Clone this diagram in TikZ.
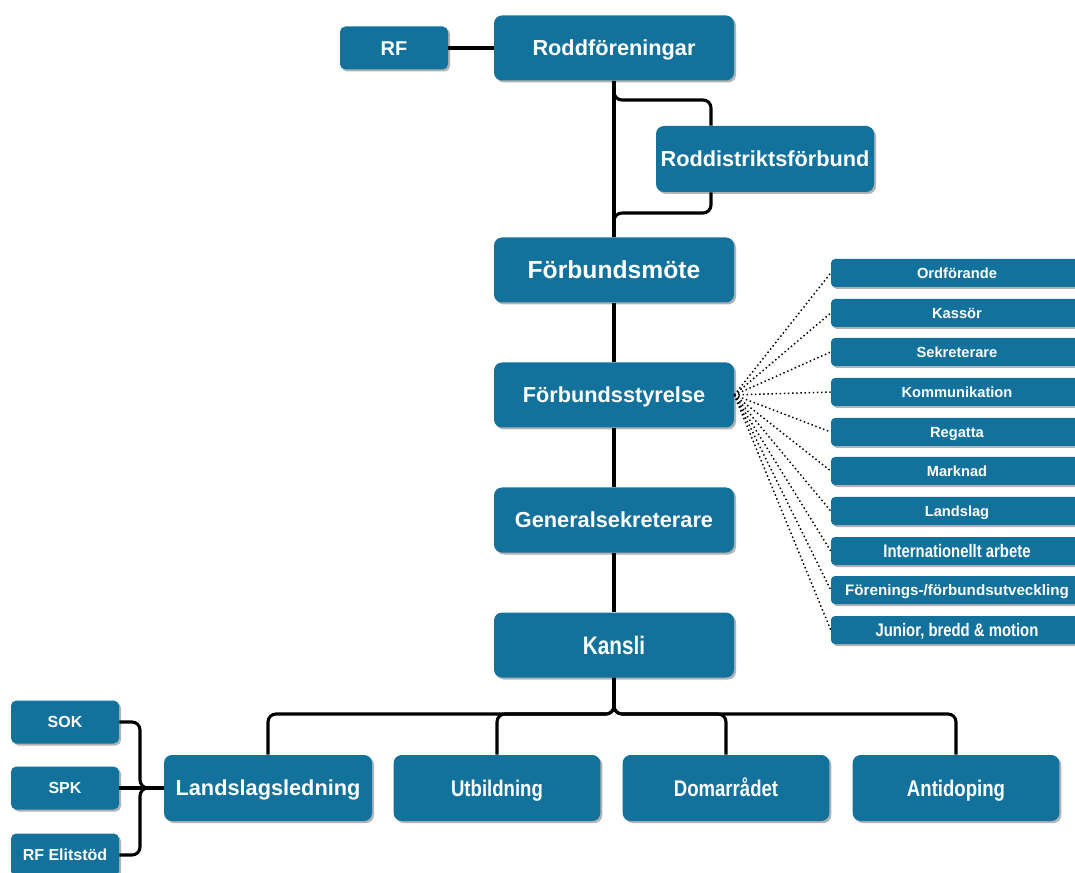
\documentclass[tikz,border=0pt]{standalone}
\usepackage{fontspec}
\setmainfont{Liberation Sans}
\newfontfamily\narrowfont{Liberation Sans}[FakeStretch=0.82]
\usetikzlibrary{shadows}
\definecolor{boxblue}{RGB}{19,114,156}
\tikzset{
  box/.style={draw=none, fill=boxblue, text=white, font=\bfseries, rounded corners=6pt,
    inner sep=0pt, align=center,
    execute at begin node={\rule[-0.3em]{0pt}{1.32em}},
    drop shadow={shadow xshift=1.5pt, shadow yshift=-1.5pt, opacity=0.3, fill=black}},
  bigbox/.style={box, minimum width=180pt, minimum height=48.75pt},
  midbox/.style={box, minimum width=155pt, minimum height=49.5pt},
  smallbox/.style={box, minimum width=81pt, minimum height=32.25pt, rounded corners=4pt},
  listbox/.style={box, minimum width=189pt, minimum height=21pt, rounded corners=3pt},
  conn/.style={draw=black, line width=2.3pt, rounded corners=6pt},
  dotline/.style={draw=black, line width=1.1pt, dotted},
}
\newcommand{\fs}[1]{\fontsize{#1}{#1}\selectfont}
\begin{document}
\begin{tikzpicture}[x=0.75pt, y=-0.75pt]
\useasboundingbox (0,0) rectangle (1075,873);
% nodes
\node[smallbox, font=\bfseries\fs{15pt}] (rf) at (394,48) {RF};
\node[bigbox, font=\bfseries\fs{16.3pt}] (rodd) at (614,48) {Roddföreningar};
\node[box, minimum width=163.5pt, minimum height=49.5pt, font=\bfseries\fs{16.3pt}] (dist) at (765,159) {Roddistriktsförbund};
\node[bigbox, font=\bfseries\fs{18.5pt}] (mote) at (614,270) {Förbundsmöte};
\node[bigbox, font=\bfseries\fs{16.3pt}] (styr) at (614,395) {Förbundsstyrelse};
\node[bigbox, font=\bfseries\fs{16.3pt}] (gen) at (614,520) {Generalsekreterare};
\node[bigbox, font=\bfseries\narrowfont\fs{19pt}] (kansli) at (614,645) {Kansli};
\node[box, minimum width=156pt, minimum height=49.5pt, font=\bfseries\fs{16.3pt}] (lands) at (268,788) {Landslagsledning};
\node[midbox, font=\bfseries\narrowfont\fs{17pt}] (utb) at (497,788) {Utbildning};
\node[midbox, font=\bfseries\narrowfont\fs{17pt}] (dom) at (726,788) {Domarrådet};
\node[midbox, font=\bfseries\narrowfont\fs{17pt}] (anti) at (956,788) {Antidoping};
\node[smallbox, font=\bfseries\fs{12pt}] (sok) at (65,722) {SOK};
\node[smallbox, font=\bfseries\fs{12pt}] (spk) at (65,788) {SPK};
\node[smallbox, font=\bfseries\fs{12pt}] (elit) at (65,855) {RF Elitstöd};
% right list
\node[listbox, font=\bfseries\fs{11pt}] (l1) at (957,273) {Ordförande};
\node[listbox, font=\bfseries\fs{11pt}] (l2) at (957,313) {Kassör};
\node[listbox, font=\bfseries\fs{11pt}] (l3) at (957,352) {Sekreterare};
\node[listbox, font=\bfseries\fs{11pt}] (l4) at (957,392) {Kommunikation};
\node[listbox, font=\bfseries\fs{11pt}] (l5) at (957,432) {Regatta};
\node[listbox, font=\bfseries\fs{11pt}] (l6) at (957,471) {Marknad};
\node[listbox, font=\bfseries\fs{11pt}] (l7) at (957,511) {Landslag};
\node[listbox, font=\bfseries\narrowfont\fs{13.6pt}] (l8) at (957,551) {Internationellt arbete};
\node[listbox, font=\bfseries\fs{11.4pt}] (l9) at (957,590) {Förenings-/förbundsutveckling};
\node[listbox, font=\bfseries\narrowfont\fs{13.6pt}] (l10) at (957,630) {Junior, bredd \& motion};
% junction coordinates
\coordinate (j1) at (711,100);
\coordinate (j2) at (614,213);
\coordinate (bus) at (614,714);
\coordinate (lbus) at (140,788);
% connectors
\draw[conn] (rf.east) -- (rodd.west);
\draw[conn] (rodd.south) -- (mote.north);
\draw[conn] (rodd.south) |- (j1) -- (dist.north -| j1);
\draw[conn] (dist.south -| j1) |- (j2) -- (mote.north);
\draw[conn] (mote.south) -- (styr.north);
\draw[conn] (styr.south) -- (gen.north);
\draw[conn] (gen.south) -- (kansli.north);
\draw[conn] (kansli.south) -- (bus) -| (lands.north);
\draw[conn] (kansli.south) -- (bus) -| (utb.north);
\draw[conn] (kansli.south) -- (bus) -| (dom.north);
\draw[conn] (kansli.south) -- (bus) -| (anti.north);
\draw[conn] (sok.east) -| (lbus) -- (lands.west);
\draw[conn] (spk.east) -- (lands.west);
\draw[conn] (elit.east) -| (lbus) -- (lands.west);
\foreach \n in {l1,l2,l3,l4,l5,l6,l7,l8,l9,l10}
  \draw[dotline] (styr.east) -- (\n.west);
\end{tikzpicture}
\end{document}
